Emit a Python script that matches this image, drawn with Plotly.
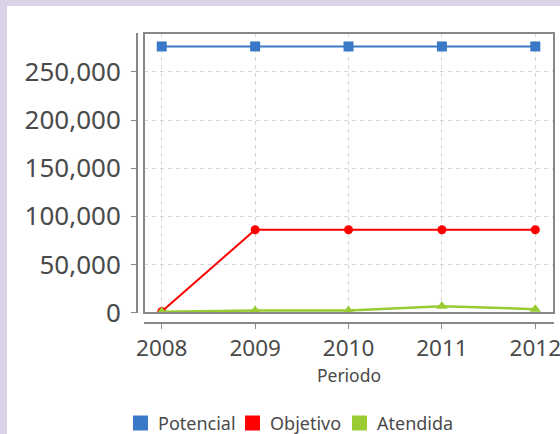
import plotly.graph_objects as go

years = [2008, 2009, 2010, 2011, 2012]
potencial = [276500, 276500, 276500, 276500, 276500]
objetivo = [1000, 86000, 86000, 86000, 86000]
atendida = [800, 2000, 2000, 6500, 3500]
y_ticks = [0, 50000, 100000, 150000, 200000, 250000]
y_tick_labels = ["0", "50,000", "100,000", "150,000", "200,000", "250,000"]
series_names = ["Potencial", "Objetivo", "Atendida"]

FONT = "Noto Sans, DejaVu Sans, sans-serif"
BLUE = "#3a78c8"
RED = "#ff0000"
GREEN = "#99cc33"
TXT = "#4a4a4a"
colors = [BLUE, RED, GREEN]

fig = go.Figure()
fig.add_trace(go.Scatter(x=years, y=potencial, mode="lines+markers", name=series_names[0],
                         line=dict(color=BLUE, width=2),
                         marker=dict(symbol="square", size=10, color=BLUE), showlegend=False))
fig.add_trace(go.Scatter(x=years, y=objetivo, mode="lines+markers", name=series_names[1],
                         line=dict(color=RED, width=2),
                         marker=dict(symbol="circle", size=9, color=RED), showlegend=False))
fig.add_trace(go.Scatter(x=years, y=atendida, mode="lines+markers", name=series_names[2],
                         line=dict(color=GREEN, width=2.5),
                         marker=dict(symbol="triangle-up", size=10, color=GREEN), showlegend=False))

# plot area: x 137..554, y 33..323
L, R, T, B = 137, 6, 33, 111
W, H = 560, 434
pw = W - L - R
ph = H - T - B


def px(x):
    return (x - L) / pw


def py(y):
    return (T + ph - y) / ph


shapes = [
    dict(type="rect", xref="paper", yref="paper",
         x0=px(7), x1=px(W + 5), y0=py(6), y1=py(H + 5),
         fillcolor="white", line=dict(width=0), layer="below"),
    dict(type="rect", xref="x domain", yref="y domain", x0=0, x1=1, y0=0, y1=1,
         line=dict(color="#888888", width=2), layer="above"),
]
annotations = []
leg_sq_x = [133, 245, 352]
leg_txt_x = [156, 268, 375]
leg_y = 423
for nm, c, sx, tx in zip(series_names, colors, leg_sq_x, leg_txt_x):
    shapes.append(dict(type="rect", xref="paper", yref="paper",
                       x0=px(sx), x1=px(sx + 15), y0=py(leg_y - 7.5), y1=py(leg_y + 7.5),
                       fillcolor=c, line=dict(width=0)))
    annotations.append(dict(text=nm, xref="paper", yref="paper", x=px(tx), y=py(leg_y),
                            xanchor="left", yanchor="middle", showarrow=False,
                            font=dict(size=18, color=TXT, family=FONT)))

fig.update_layout(
    width=W, height=H,
    margin=dict(l=L, r=R, t=T, b=B, pad=0, autoexpand=False),
    paper_bgcolor="#dad2e6",
    plot_bgcolor="rgba(0,0,0,0)",
    font=dict(family=FONT, color=TXT),
    showlegend=False,
    xaxis=dict(domain=[7 / pw, 1], range=[2007.81, 2012.2], anchor="free", position=0,
               tickvals=years, ticktext=[str(y) for y in years],
               tickfont=dict(size=22.5, color=TXT), automargin=False,
               ticklabeloverflow="allow",
               showline=True, linecolor="#888888", linewidth=2,
               ticks="outside", ticklen=5, tickcolor="#888888", tickwidth=1,
               showgrid=True, gridcolor="#d6d6d6", griddash="4px,4px", gridwidth=1,
               zeroline=False,
               title=dict(text="Periodo", font=dict(size=17.5, color=TXT), standoff=6)),
    yaxis=dict(domain=[10 / ph, 1], range=[-500, 290500], anchor="free", position=0,
               tickvals=y_ticks, ticktext=y_tick_labels,
               tickfont=dict(size=26, color=TXT), automargin=False,
               ticklabeloverflow="allow",
               showline=True, linecolor="#888888", linewidth=2,
               ticks="outside", ticklen=5, tickcolor="#888888", tickwidth=1,
               ticklabelstandoff=5,
               showgrid=True, gridcolor="#d6d6d6", griddash="4px,4px", gridwidth=1,
               zeroline=False),
    shapes=shapes,
    annotations=annotations,
)

fig.write_html("out.html", config={"displayModeBar": False},
               post_script="document.body.style.margin='0';document.body.style.padding='0';")
